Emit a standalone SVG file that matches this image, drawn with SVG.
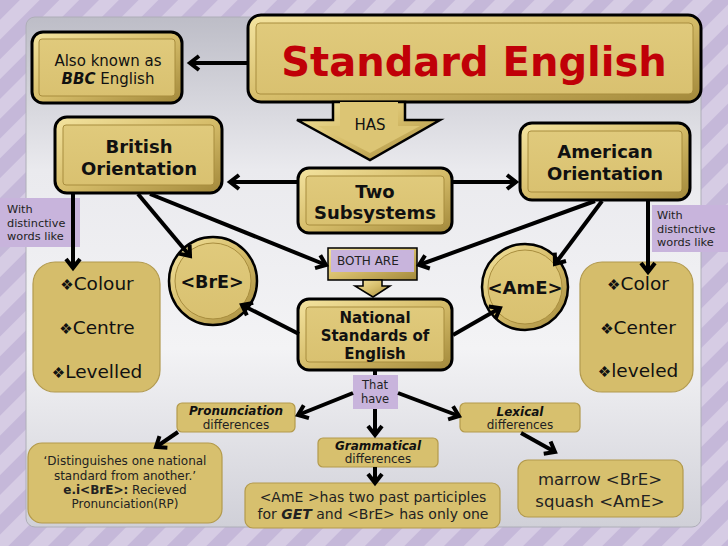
<svg xmlns="http://www.w3.org/2000/svg" width="728" height="546" viewBox="0 0 728 546">
<defs>
<pattern id="stripes" width="28" height="28" patternUnits="userSpaceOnUse" patternTransform="rotate(45)">
<rect width="28" height="28" fill="#d6cce4"/>
<rect width="14" height="28" fill="#c5b8d9"/>
</pattern>
<linearGradient id="panel" x1="0" y1="0" x2="0" y2="1">
<stop offset="0" stop-color="#bdbdc7"/>
<stop offset="0.3" stop-color="#eaeaee"/>
<stop offset="0.65" stop-color="#f3f3f5"/>
<stop offset="1" stop-color="#d0d0d8"/>
</linearGradient>
<linearGradient id="bev" x1="0" y1="0" x2="1" y2="1">
<stop offset="0" stop-color="#f4e4a0"/>
<stop offset="0.5" stop-color="#d6bd6a"/>
<stop offset="1" stop-color="#a2883a"/>
</linearGradient>
<linearGradient id="face" x1="0" y1="0" x2="0" y2="1">
<stop offset="0" stop-color="#e0ca7c"/>
<stop offset="1" stop-color="#d9c170"/>
</linearGradient>
<marker id="ah" markerUnits="userSpaceOnUse" markerWidth="20" markerHeight="20" viewBox="0 0 20 20" refX="14" refY="10" orient="auto">
<path d="M5,3 L14,10 L5,17" fill="none" stroke="#000" stroke-width="4"/>
</marker>
</defs>
<style>
.t{font-family:"DejaVu Sans","Verdana",sans-serif;fill:#111;text-anchor:middle}
.l{font-family:"DejaVu Sans","Verdana",sans-serif;fill:#222;text-anchor:start}
.b{font-weight:bold}
.bi{font-weight:bold;font-style:italic}
.outer{fill:url(#bev);stroke:#000;stroke-width:3}
.inner{fill:url(#face);stroke:#a88d3e;stroke-width:1}
.list{fill:#d5bd6b;stroke:#b29a4f;stroke-width:1.2}
.small{fill:#d7c06e;stroke:#b39a4c;stroke-width:1.2}
.purple{fill:#c8b4dc}
.conn{fill:none;stroke:#000;stroke-width:4}
.bul{font-size:15px;font-family:"DejaVu Sans",sans-serif;fill:#111}
</style>

<rect width="728" height="546" fill="url(#stripes)"/>
<rect x="26" y="17" width="675" height="510" rx="9" fill="url(#panel)" stroke="#aeaeb8" stroke-width="1"/>

<g id="also-known">
<rect class="outer" x="32" y="32" width="150" height="71" rx="11"/>
<rect class="inner" x="39" y="39" width="136" height="57" rx="3"/>
<text class="t" x="108" y="66" font-size="15">Also known as</text>
<text class="t" x="108" y="84" font-size="15"><tspan class="bi">BBC</tspan> English</text>
</g>

<g id="standard-english">
<rect class="outer" x="248" y="15" width="453" height="87" rx="13"/>
<rect class="inner" x="256" y="23" width="437" height="71" rx="4"/>
<text class="t b" x="474" y="76" font-size="40" style="fill:#c00008">Standard English</text>
</g>

<g id="has-arrow">
<polygon points="333,102 405,102 405,120 440,120 370,160 297,120 333,120" fill="url(#bev)" stroke="#000" stroke-width="2.5" stroke-linejoin="miter"/>
<polygon points="340,102 398,102 398,126 420,126 370,153 318,126 340,126" fill="#dcc574"/>
<text class="t" x="370" y="130" font-size="15">HAS</text>
</g>

<g id="british-orientation">
<rect class="outer" x="55" y="117" width="167" height="76" rx="12"/>
<rect class="inner" x="63" y="125" width="151" height="60" rx="3"/>
<text class="t b" x="139" y="153" font-size="18">British</text>
<text class="t b" x="139" y="175" font-size="18">Orientation</text>
</g>

<g id="american-orientation">
<rect class="outer" x="520" y="123" width="170" height="77" rx="12"/>
<rect class="inner" x="528" y="131" width="154" height="61" rx="3"/>
<text class="t b" x="605" y="158" font-size="18">American</text>
<text class="t b" x="605" y="180" font-size="18">Orientation</text>
</g>

<g id="two-subsystems">
<rect class="outer" x="298" y="168" width="154" height="65" rx="11"/>
<rect class="inner" x="306" y="176" width="138" height="49" rx="3"/>
<text class="t b" x="375" y="198" font-size="18">Two</text>
<text class="t b" x="375" y="219" font-size="18">Subsystems</text>
</g>

<g id="label-left">
<rect class="purple" x="0" y="198" width="80" height="49"/>
<text class="l" x="7" y="213" font-size="11.3">With</text>
<text class="l" x="7" y="227" font-size="11.3">distinctive</text>
<text class="l" x="7" y="240" font-size="11.3">words like</text>
</g>

<g id="label-right">
<rect class="purple" x="652" y="205" width="76" height="47"/>
<text class="l" x="657" y="219" font-size="11.3">With</text>
<text class="l" x="657" y="233" font-size="11.3">distinctive</text>
<text class="l" x="657" y="246" font-size="11.3">words like</text>
</g>

<g id="list-bre">
<rect class="list" x="33" y="262" width="127" height="130" rx="22"/>
<text class="t" x="97" y="290" font-size="18.5"><tspan class="bul">❖︎</tspan>Colour</text>
<text class="t" x="97" y="334" font-size="18.5"><tspan class="bul">❖︎</tspan>Centre</text>
<text class="t" x="97" y="378" font-size="18.5"><tspan class="bul">❖︎</tspan>Levelled</text>
</g>

<g id="list-ame">
<rect class="list" x="580" y="262" width="113" height="130" rx="22"/>
<text class="t" x="638" y="290" font-size="18.5"><tspan class="bul">❖︎</tspan>Color</text>
<text class="t" x="638" y="334" font-size="18.5"><tspan class="bul">❖︎</tspan>Center</text>
<text class="t" x="638" y="377" font-size="18.5"><tspan class="bul">❖︎</tspan>leveled</text>
</g>

<g id="bre">
<circle cx="213" cy="281" r="44" fill="url(#bev)" stroke="#000" stroke-width="2.5"/>
<circle cx="213" cy="281" r="38" fill="url(#face)" stroke="#a88d3e" stroke-width="1"/>
<text class="t b" x="212" y="288" font-size="17.5">&lt;BrE&gt;</text>
</g>

<g id="ame">
<circle cx="525" cy="287" r="43" fill="url(#bev)" stroke="#000" stroke-width="2.5"/>
<circle cx="525" cy="287" r="37" fill="url(#face)" stroke="#a88d3e" stroke-width="1"/>
<text class="t b" x="525" y="294" font-size="18">&lt;AmE&gt;</text>
</g>

<g id="both-are">
<rect x="328" y="248" width="89" height="32" fill="url(#bev)" stroke="#000" stroke-width="1.5"/>
<rect class="purple" x="331" y="250" width="83" height="22"/>
<polygon points="363,280 382,280 382,286 390,286 373,297 355,286 363,286" fill="url(#bev)" stroke="#000" stroke-width="1.5"/>
<text class="l" x="337" y="265" font-size="12">BOTH ARE</text>
</g>

<g id="national-standards">
<rect class="outer" x="298" y="299" width="154" height="71" rx="11"/>
<rect class="inner" x="306" y="307" width="138" height="55" rx="3"/>
<text class="t b" x="375" y="323" font-size="15">National</text>
<text class="t b" x="375" y="341" font-size="15">Standards of</text>
<text class="t b" x="375" y="359" font-size="15">English</text>
</g>

<g id="that-have">
<rect class="purple" x="353" y="375" width="45" height="34"/>
<text class="t" x="375" y="389" font-size="11.5" style="fill:#222">That</text>
<text class="t" x="375" y="403" font-size="11.5" style="fill:#222">have</text>
</g>

<g id="pronunciation">
<rect class="small" x="177" y="403" width="118" height="29" rx="5"/>
<text class="t bi" x="236" y="415" font-size="12">Pronunciation</text>
<text class="t" x="236" y="429" font-size="12" style="fill:#222">differences</text>
</g>

<g id="grammatical">
<rect class="small" x="318" y="438" width="120" height="29" rx="5"/>
<text class="t bi" x="378" y="450" font-size="12">Grammatical</text>
<text class="t" x="378" y="463" font-size="12" style="fill:#222">differences</text>
</g>

<g id="lexical">
<rect class="small" x="460" y="403" width="120" height="29" rx="5"/>
<text class="t bi" x="520" y="416" font-size="12">Lexical</text>
<text class="t" x="520" y="429" font-size="12" style="fill:#222">differences</text>
</g>

<g id="rp-box">
<rect class="small" x="28" y="443" width="194" height="80" rx="14"/>
<text class="t" x="125" y="465" font-size="12" style="fill:#222">‘Distinguishes one national</text>
<text class="t" x="125" y="480" font-size="12" style="fill:#222">standard from another.’</text>
<text class="t" x="125" y="494" font-size="12" style="fill:#222"><tspan class="b">e.i&lt;BrE&gt;:</tspan> Recieved</text>
<text class="t" x="125" y="508" font-size="12" style="fill:#222">Pronunciation(RP)</text>
</g>

<g id="get-box">
<rect class="small" x="245" y="483" width="255" height="45" rx="8"/>
<text class="t" x="373" y="502" font-size="14" style="fill:#222">&lt;AmE &gt;has two past participles</text>
<text class="t" x="373" y="519" font-size="14" style="fill:#222">for <tspan class="bi">GET</tspan> and &lt;BrE&gt; has only one</text>
</g>

<g id="marrow-box">
<rect class="small" x="518" y="460" width="165" height="57" rx="10"/>
<text class="t" x="600" y="485" font-size="16.5" style="fill:#222">marrow &lt;BrE&gt;</text>
<text class="t" x="600" y="507" font-size="16.5" style="fill:#222">squash &lt;AmE&gt;</text>
</g>

<g id="connectors">
<path class="conn" d="M248,63 L190,63" marker-end="url(#ah)"/>
<path class="conn" d="M298,182 L230,182" marker-end="url(#ah)"/>
<path class="conn" d="M452,182 L516,182" marker-end="url(#ah)"/>
<path class="conn" d="M73,193 L73,268" marker-end="url(#ah)"/>
<path class="conn" d="M648,200 L648,272" marker-end="url(#ah)"/>
<path class="conn" d="M138,194 L190,256" marker-end="url(#ah)"/>
<path class="conn" d="M150,194 L326,265" marker-end="url(#ah)"/>
<path class="conn" d="M602,201 L555,264" marker-end="url(#ah)"/>
<path class="conn" d="M595,201 L419,265" marker-end="url(#ah)"/>
<path class="conn" d="M299,334 L242,305" marker-end="url(#ah)"/>
<path class="conn" d="M453,335 L500,308" marker-end="url(#ah)"/>
<path class="conn" d="M375,370 L375,375"/>
<path class="conn" d="M353,393 L298,415" marker-end="url(#ah)"/>
<path class="conn" d="M375,409 L375,435" marker-end="url(#ah)"/>
<path class="conn" d="M398,393 L459,416" marker-end="url(#ah)"/>
<path class="conn" d="M178,432 L156,447" marker-end="url(#ah)"/>
<path class="conn" d="M375,467 L375,483" marker-end="url(#ah)"/>
<path class="conn" d="M521,433 L555,452" marker-end="url(#ah)"/>
</g>
</svg>
